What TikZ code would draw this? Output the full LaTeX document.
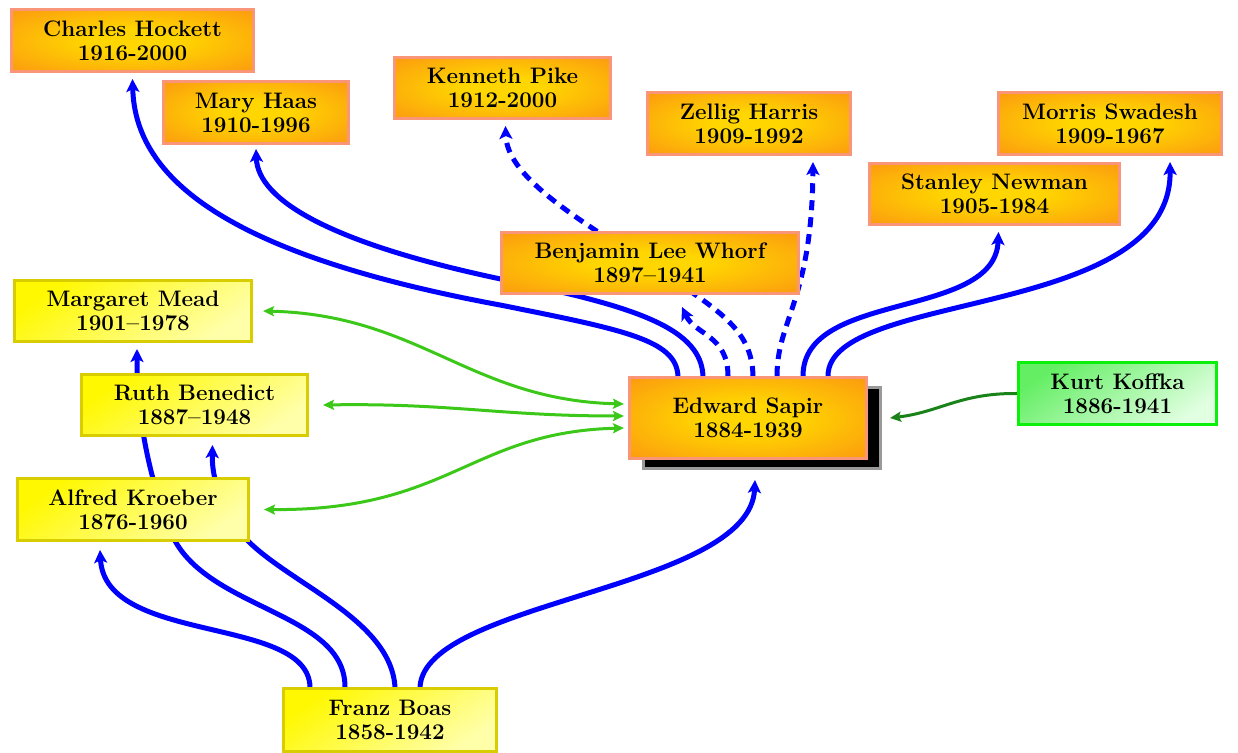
\documentclass[tikz,border=0pt]{standalone}
\usepackage{fontspec}
\usetikzlibrary{arrows.meta,backgrounds,shadows}

\definecolor{sunyellow}{RGB}{255,214,0}
\definecolor{deeporange}{RGB}{250,135,20}
\definecolor{salmonline}{RGB}{250,150,120}
\definecolor{lemon}{RGB}{255,248,0}
\definecolor{paleyellow}{RGB}{255,255,170}
\definecolor{oliveline}{RGB}{215,205,0}
\definecolor{leaf}{RGB}{100,238,100}
\definecolor{paleleaf}{RGB}{225,255,225}
\definecolor{limeline}{RGB}{10,240,10}
\definecolor{linkgreen}{RGB}{60,200,25}
\definecolor{forestgreen}{RGB}{25,130,25}

% warm glow: gold in the middle, orange toward the rim
\pgfdeclareradialshading{sunglow}{\pgfpoint{0bp}{0bp}}{%
  color(0bp)=(sunyellow); color(9bp)=(sunyellow); color(44bp)=(deeporange); color(75bp)=(deeporange)}

\tikzset{
  person/.style={rectangle, align=center, line width=1.5pt, inner sep=2pt,
    font=\fontsize{11.2}{12}\selectfont\bfseries},
  orangebox/.style={person, draw=salmonline, shading=sunglow},
  yellowbox/.style={person, draw=oliveline, top color=lemon, bottom color=paleyellow, shading angle=35},
  greenbox/.style={person, draw=limeline, top color=leaf, bottom color=paleleaf, shading angle=35},
  link/.style={draw=blue, line width=2.5pt, -{Stealth[length=6.5pt,width=6.5pt,inset=1.5pt]}},
  dashedlink/.style={link, dash pattern=on 5pt off 3.5pt},
  mutual/.style={draw=linkgreen, line width=1.5pt,
    {Stealth[length=5.5pt,width=5pt,inset=1pt]}-{Stealth[length=5.5pt,width=5pt,inset=1pt]}},
  influence/.style={draw=forestgreen, line width=1.5pt, -{Stealth[length=5.5pt,width=5pt,inset=1pt]}}
}

\begin{document}
\begin{tikzpicture}[x=0.5pt,y=-0.5pt]
\useasboundingbox (0,0) rectangle (1238,753);

% people
\node[orangebox, minimum width=121pt, minimum height=31pt] (hockett) at (132.5,40.5) {Charles Hockett\\1916-2000};
\node[orangebox, minimum width=92.5pt, minimum height=31pt] (haas) at (256,112.5) {Mary Haas\\1910-1996};
\node[orangebox, minimum width=108pt, minimum height=30.5pt] (pike) at (502.5,88) {Kenneth Pike\\1912-2000};
\node[orangebox, minimum width=101.5pt, minimum height=31pt] (harris) at (749,123.5) {Zellig Harris\\1909-1992};
\node[orangebox, minimum width=111.5pt, minimum height=31pt] (swadesh) at (1110,123.5) {Morris Swadesh\\1909-1967};
\node[orangebox, minimum width=125pt, minimum height=30.5pt] (newman) at (994.5,194) {Stanley Newman\\1905-1984};
\node[orangebox, minimum width=148.5pt, minimum height=30.5pt] (whorf) at (650,263) {Benjamin Lee Whorf\\1897--1941};
\node[yellowbox, minimum width=118.5pt, minimum height=30.5pt] (mead) at (133,311) {Margaret Mead\\1901--1978};
\node[yellowbox, minimum width=113pt, minimum height=30.5pt] (benedict) at (194.5,405) {Ruth Benedict\\1887--1948};
\node[yellowbox, minimum width=115.5pt, minimum height=31pt] (kroeber) at (133,509.5) {Alfred Kroeber\\1876-1960};
\node[orangebox, minimum width=118.5pt, minimum height=40.5pt,
      drop shadow={shadow xshift=7pt, shadow yshift=-5pt, fill=black, opacity=1, draw=gray!80, line width=1.5pt}]
      (sapir) at (748,418) {Edward Sapir\\1884-1939};
\node[greenbox, minimum width=99pt, minimum height=31pt] (koffka) at (1117.5,393.5) {Kurt Koffka\\1886-1941};
\node[yellowbox, minimum width=106.5pt, minimum height=31.5pt] (boas) at (390,720) {Franz Boas\\1858-1942};

\begin{pgfonlayer}{background}
% Boas and his students
\draw[link] ([xshift=-40pt]boas.north) .. controls (308,615) and (105,645) .. ([xshift=-16.5pt,yshift=-4pt]kroeber.south);
\draw[link] ([xshift=-22.5pt]boas.north) .. controls (345,610) and (200,610) .. (170,530)
            .. controls (150,480) and (137,420) .. ([xshift=2pt,yshift=-3pt]mead.south);
\draw[link] ([xshift=2.5pt]boas.north) .. controls (390,610) and (260,575) .. (232,520)
            .. controls (215,490) and (212,470) .. ([xshift=9pt,yshift=-4pt]benedict.south);
\draw[link] ([xshift=15pt]boas.north) .. controls (425,600) and (750,590) .. ([xshift=3.5pt,yshift=-10pt]sapir.south);

% Sapir and his students
\draw[link] ([xshift=-35pt]sapir.north) .. controls (676,340) and (625,330) .. (500,305)
            .. controls (230,255) and (135,180) .. ([yshift=-3pt]hockett.south);
\draw[link] ([xshift=-22.5pt]sapir.north) .. controls (701,330) and (640,308) .. (520,283)
            .. controls (330,245) and (258,200) .. ([yshift=-2pt]haas.south);
\draw[dashedlink] ([xshift=-10pt]sapir.north) .. controls (728,335) and (695,335) .. ([xshift=16pt,yshift=-6pt]whorf.south);
\draw[dashedlink] ([xshift=2.5pt]sapir.north) .. controls (752,330) and (720,310) .. (650,265)
            .. controls (570,215) and (507,175) .. ([xshift=1.5pt,yshift=-3pt]pike.south);
\draw[dashedlink] ([xshift=14.5pt]sapir.north) .. controls (777,320) and (812,300) .. ([xshift=32pt,yshift=-3pt]harris.south);
\draw[link] ([xshift=27.5pt]sapir.north) .. controls (803,290) and (995,320) .. ([xshift=2pt,yshift=-3pt]newman.south);
\draw[link] ([xshift=40pt]sapir.north) .. controls (828,290) and (1172,320) .. ([xshift=30pt,yshift=-3pt]swadesh.south);

% colleagues
\draw[mutual] ([xshift=5pt]mead.east) .. controls (420,315) and (470,400) .. ([xshift=-2pt,yshift=7pt]sapir.west);
\draw[mutual] ([xshift=7pt]benedict.east) .. controls (450,403) and (500,416) .. ([xshift=-2pt,yshift=1pt]sapir.west);
\draw[mutual] ([xshift=7pt]kroeber.east) .. controls (450,511) and (470,432) .. ([xshift=-2pt,yshift=-5pt]sapir.west);
\draw[influence] (koffka.west) .. controls (960,393) and (940,412) .. ([xshift=11pt]sapir.east);
\end{pgfonlayer}
\end{tikzpicture}
\end{document}
